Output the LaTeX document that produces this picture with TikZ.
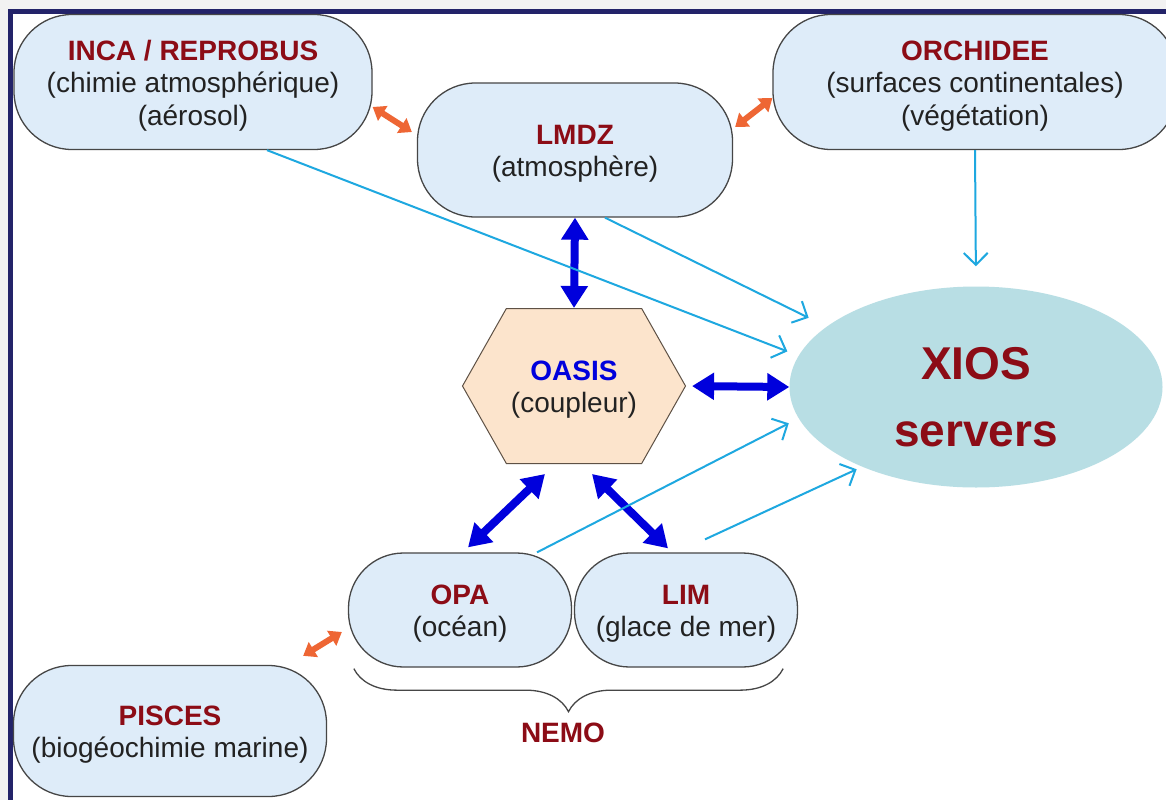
\documentclass[tikz,border=0pt]{standalone}
\usepackage{fontspec}
\setmainfont{Liberation Sans}
\usetikzlibrary{arrows.meta,shapes.geometric,shapes.symbols,decorations.pathreplacing}

\definecolor{titlered}{RGB}{140,12,22}
\definecolor{bodygray}{RGB}{34,34,34}
\definecolor{boxblue}{RGB}{222,236,249}
\definecolor{boxline}{RGB}{70,70,70}
\definecolor{hexfill}{RGB}{252,228,204}
\definecolor{xiosfill}{RGB}{184,222,228}
\definecolor{linkblue}{RGB}{0,0,220}
\definecolor{linkorange}{RGB}{238,102,52}
\definecolor{outcyan}{RGB}{30,168,224}
\definecolor{framenavy}{RGB}{35,35,105}
\definecolor{outergray}{RGB}{242,242,242}

% first line of a box: the rule lowers the text block a little
\newcommand{\modname}[1]{{\rule{0pt}{27pt}\bfseries\color{titlered}#1}}

\tikzset{
  model/.style={draw=boxline, line width=1.3pt, fill=boxblue, rounded corners=58pt,
    align=center, text=bodygray, inner sep=0pt, font=\fontsize{28}{32.5}\selectfont},
  coupler/.style={shape=signal, signal to=west and east, signal pointer angle=121,
    draw=boxline!80!brown, line width=1pt, fill=hexfill, align=center, text=bodygray,
    inner sep=0pt, font=\fontsize{28}{32.5}\selectfont},
  coupling/.style={linkblue, line width=8pt,
    {Triangle[width=26pt,length=22pt]}-{Triangle[width=26pt,length=22pt]}},
  exchange/.style={linkorange, line width=6pt,
    {Triangle[width=17pt,length=12pt]}-{Triangle[width=17pt,length=12pt]}},
  iolink/.style={outcyan, line width=2pt, -{Straight Barb[length=12pt,width=24pt]}},
}

\begin{document}
\begin{tikzpicture}[x=1pt,y=-1pt]
  \useasboundingbox (0,0) rectangle (1166,800);
  \fill[outergray] (0,0) rectangle (1166,800);
  \fill[white] (10,12) rectangle (1166,800);
  \draw[framenavy, line width=5pt] (1166,12) -- (10,12) -- (10,800);

  % models
  \node[model, minimum width=358pt, minimum height=135pt] (inca) at (193,82)
    {\modname{INCA / REPROBUS}\\(chimie atmosphérique)\\(aérosol)};
  \node[model, minimum width=315pt, minimum height=134pt] (lmdz) at (575,150)
    {\modname{LMDZ}\\(atmosphère)};
  \node[model, minimum width=404pt, minimum height=135pt] (orchidee) at (975,82)
    {\modname{ORCHIDEE}\\(surfaces continentales)\\(végétation)};
  \node[model, minimum width=223pt, minimum height=114pt, rounded corners=55pt] (opa) at (460,610)
    {\modname{OPA}\\(océan)};
  \node[model, minimum width=223pt, minimum height=114pt, rounded corners=55pt] (lim) at (686,610)
    {\modname{LIM}\\(glace de mer)};
  \node[model, minimum width=313pt, minimum height=131pt] (pisces) at (170,731)
    {\modname{PISCES}\\(biogéochimie marine)};

  \node[coupler, minimum width=223pt, minimum height=155pt] (oasis) at (574,386)
    {{\rule{0pt}{27pt}\bfseries\color{linkblue}OASIS}\\(coupleur)};
  \node[ellipse, fill=xiosfill, minimum width=373pt, minimum height=201pt, align=center,
    text=titlered, font=\fontsize{46}{67}\selectfont\bfseries] (xios) at (976,387)
    {\rule{0pt}{53pt}XIOS\\servers};

  \draw[boxline, line width=1.3pt, decorate, decoration={brace, mirror, amplitude=43pt, raise=1pt}]
    ([xshift=6pt]opa.south west) -- ([xshift=-15pt]lim.south east);
  \node[text=titlered, font=\fontsize{28}{32.5}\selectfont\bfseries] (nemo) at (563,733) {NEMO};

  % coupling through OASIS
  \draw[coupling] (lmdz.south) -- (oasis.north);
  \draw[coupling, shorten <=6pt] (oasis.east) -- (xios.west);
  \draw[coupling] ([shift={(-29pt,-10pt)}]oasis.south) -- ([shift={(8pt,5pt)}]opa.north);
  \draw[coupling] ([shift={(18pt,-10pt)}]oasis.south) -- ([shift={(-18pt,4pt)}]lim.north);

  % direct exchanges
  \draw[exchange] ([yshift=-25pt]inca.east) -- ([shift={(-5pt,18pt)}]lmdz.west);
  \draw[exchange] ([shift={(2pt,23pt)}]lmdz.east) -- ([yshift=-16pt]orchidee.west);
  \draw[exchange] ([shift={(-24pt,9pt)}]pisces.north east) -- ([shift={(-6pt,-22pt)}]opa.west);

  % outputs to XIOS
  \draw[iolink, shorten >=12pt] ([xshift=74pt]inca.south) -- (xios.170);
  \draw[iolink, shorten >=20pt] ([xshift=30pt]lmdz.south) -- (xios.158);
  \draw[iolink, shorten >=20pt] (orchidee.south) -- (xios.north);
  \draw[iolink, shorten >=11pt] ([xshift=77pt]opa.north) -- (xios.190);
  \draw[iolink, shorten >=6pt] ([shift={(19pt,13pt)}]lim.north) -- (xios.215);
\end{tikzpicture}
\end{document}
